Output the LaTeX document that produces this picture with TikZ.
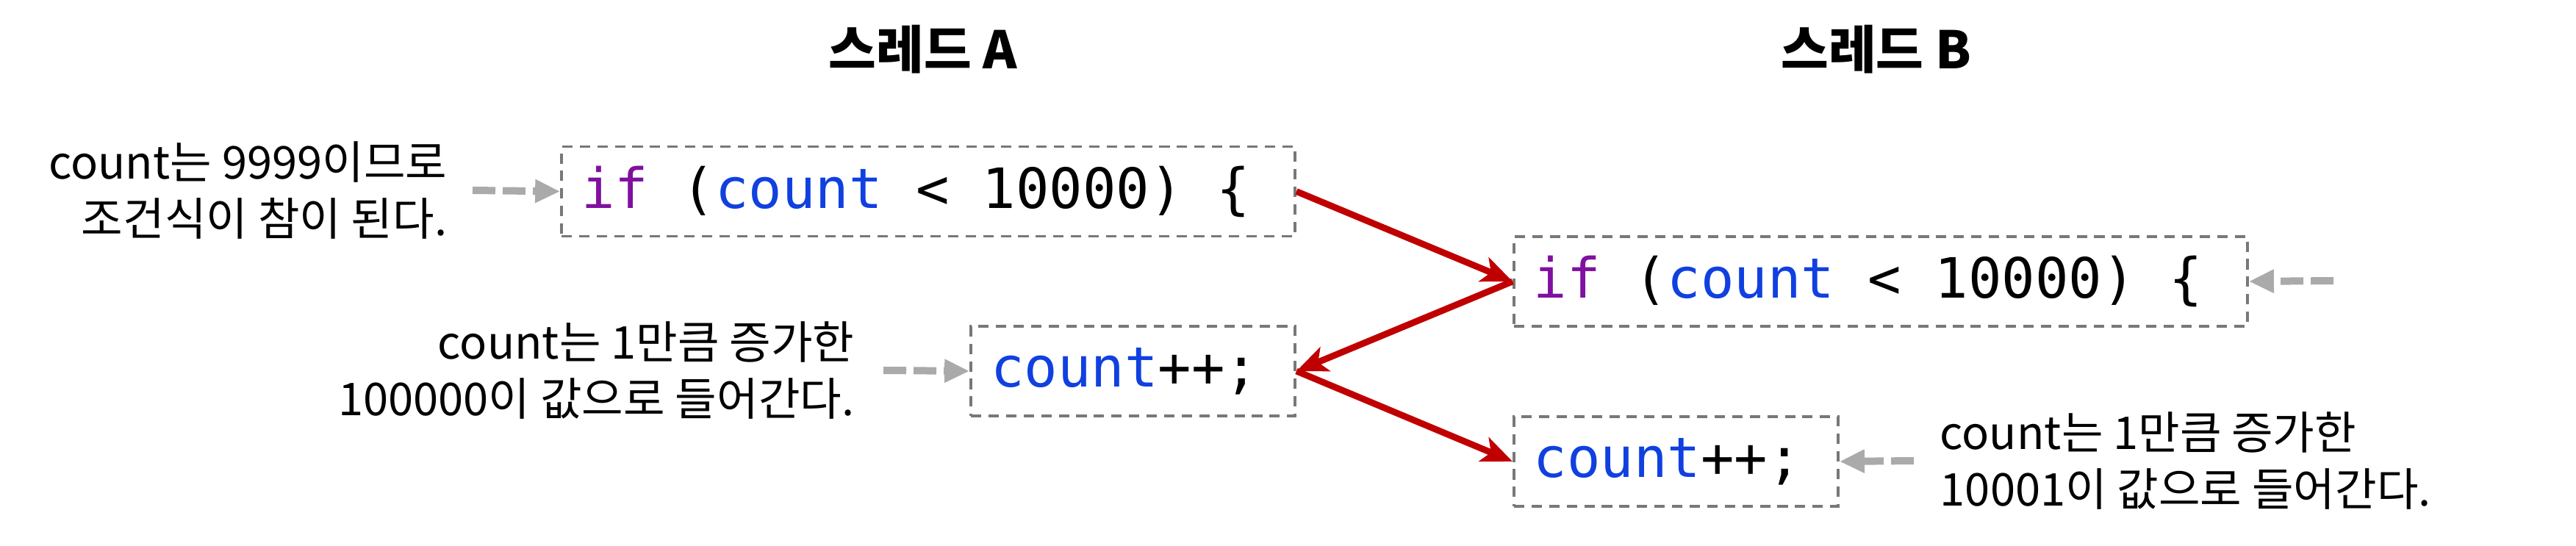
\documentclass[tikz,border=0pt]{standalone}
\usepackage{fontspec}
\setmainfont{Noto Sans CJK KR}
\newfontfamily\codefont{DejaVu Sans Mono}
\usetikzlibrary{arrows.meta,positioning}
\definecolor{racecolor}{RGB}{192,0,0}
\definecolor{hintcolor}{RGB}{170,170,170}
\definecolor{boxcolor}{RGB}{120,120,120}
\definecolor{kwcolor}{RGB}{128,16,160}
\definecolor{varcolor}{RGB}{16,64,224}
\newcommand{\kw}[1]{\textcolor{kwcolor}{#1}}
\newcommand{\cvar}[1]{\textcolor{varcolor}{#1}}
\newcommand{\csp}{\hspace*{0.602em}}

\begin{document}
\begin{tikzpicture}[
  codebox/.style={rectangle,draw=boxcolor,line width=1.1pt,dash pattern=on 4pt off 2.8pt,
                  minimum height=1.22cm,inner xsep=0.27cm,inner ysep=0pt,text width=#1,align=left,
                  font=\codefont\fontsize{21.5}{26}\selectfont},
  note/.style={inner sep=0pt,font=\fontsize{17.5}{22}\selectfont},
  threadtitle/.style={inner sep=0pt,font=\bfseries\fontsize{20}{24}\selectfont},
  raceArc/.style={-{Stealth[length=12pt,width=10pt,inset=3pt]},line width=2.5pt,racecolor},
  hintArc/.style={-{Triangle[length=0.34cm,width=0.3cm]},line width=0.1cm,hintcolor,
                  dash pattern=on 0.31cm off 0.1cm}
]
\useasboundingbox (0,0) rectangle (35.05,-7.43);
% thread titles
\node[threadtitle] (tA) at (12.56,-0.67) {스레드 A};
\node[threadtitle] (tB) at (25.53,-0.67) {스레드 B};
% code lines
\node[codebox=9.44cm,anchor=east] (a1) at (17.64,-2.605) {\kw{if}\csp(\cvar{count}\csp<\csp10000)\csp\{};
\node[codebox=3.87cm,anchor=east] (a2) at (17.64,-5.05)  {\cvar{count}++;};
\node[codebox=9.44cm,anchor=west] (b1) at (20.58,-3.83)  {\kw{if}\csp(\cvar{count}\csp<\csp10000)\csp\{};
\node[codebox=3.87cm,anchor=west] (b2) at (20.58,-6.28)  {\cvar{count}++;};
% notes
\node[note,align=right,anchor=east] (nA1) at (6.09,-2.59)  {count는 9999이므로\\조건식이 참이 된다.};
\node[note,align=right,anchor=east] (nA2) at (11.63,-5.04) {count는 1만큼 증가한\\100000이 값으로 들어간다.};
\node[note,align=left,anchor=west]  (nB2) at (26.39,-6.27) {count는 1만큼 증가한\\10001이 값으로 들어간다.};
\coordinate (hB1) at (31.75,-3.82);
% hints
\draw[hintArc] (nA1.east) ++(0.34,0) -- (a1.west);
\draw[hintArc] (nA2.east) ++(0.39,0) -- (a2.west);
\draw[hintArc] (hB1) -- (b1.east);
\draw[hintArc] (nB2.west) ++(-0.35,0) -- (b2.east);
% execution order
\draw[raceArc] (a1.east) -- (b1.west);
\draw[raceArc] (b1.west) -- (a2.east);
\draw[raceArc] (a2.east) -- (b2.west);
\end{tikzpicture}
\end{document}
